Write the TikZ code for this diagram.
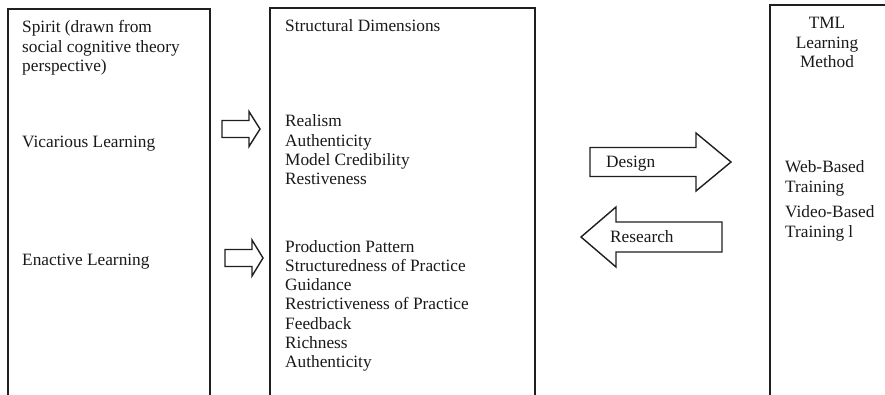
\documentclass[tikz,border=0pt]{standalone}
\usepackage{fontspec}
\setmainfont{Liberation Serif}
\begin{document}
\begin{tikzpicture}[x=1pt,y=-1pt,
  frame/.style={draw=black!88,line width=2.2pt},
  hollow/.style={draw=black!88,line width=1.4pt,fill=white,line join=miter},
  label/.style={inner sep=0pt,anchor=base west,align=left,text=black!90,
    font=\fontsize{17.3}{19.3}\selectfont},
  clabel/.style={label,anchor=base,align=center}]
\useasboundingbox (0,0) rectangle (885,395);
\clip (0,0) rectangle (885,395);

% three open-bottomed panels
\draw[frame] (8,400) -- (8,9) -- (210,9) -- (210,400);
\draw[frame] (270,400) -- (270,8) -- (535,8) -- (535,400);
\draw[frame] (770,400) -- (770,5) -- (890,5);

% block arrow: tail x, head-base x, tip x, centre y, half body, half head
\newcommand\hollowarrow[7][]{%
  \draw[hollow,#1] (#2,#5-#6) -- (#3,#5-#6) -- (#3,#5-#7) -- (#4,#5)
    -- (#3,#5+#7) -- (#3,#5+#6) -- (#2,#5+#6) -- cycle;}

\hollowarrow{222}{249}{260}{129}{8.5}{17.5}
\hollowarrow{225}{252}{263}{258}{8.5}{18}
\hollowarrow{590}{696}{731}{162}{14.5}{29}
\hollowarrow{722}{616}{581}{237}{15}{30}

% multi-line labels are placed by the baseline of their last line
% left panel
\node[label] (spirit) at (22,71.6) {Spirit (drawn from\\social cognitive theory\\perspective)};
\node[label] (vic) at (22,148) {Vicarious Learning};
\node[label] (ena) at (22,265) {Enactive Learning};

% middle panel
\node[label] (sd) at (285,32) {Structural Dimensions};
\node[label] (vdims) at (285,184.9) {Realism\\Authenticity\\Model Credibility\\Restiveness};
\node[label] (edims) at (285,367.8) {Production Pattern\\Structuredness of Practice\\Guidance\\Restrictiveness of Practice\\Feedback\\Richness\\Authenticity};

% arrow captions
\node[label] (design) at (606,168) {Design};
\node[label] (research) at (610,242) {Research};

% right panel
\node[clabel] (tml) at (827,67.6) {TML\\Learning\\Method};
\node[label] (web) at (785,192.3) {Web-Based\\Training};
\node[label] (video) at (785,237.3) {Video-Based\\Training l};
\end{tikzpicture}
\end{document}
